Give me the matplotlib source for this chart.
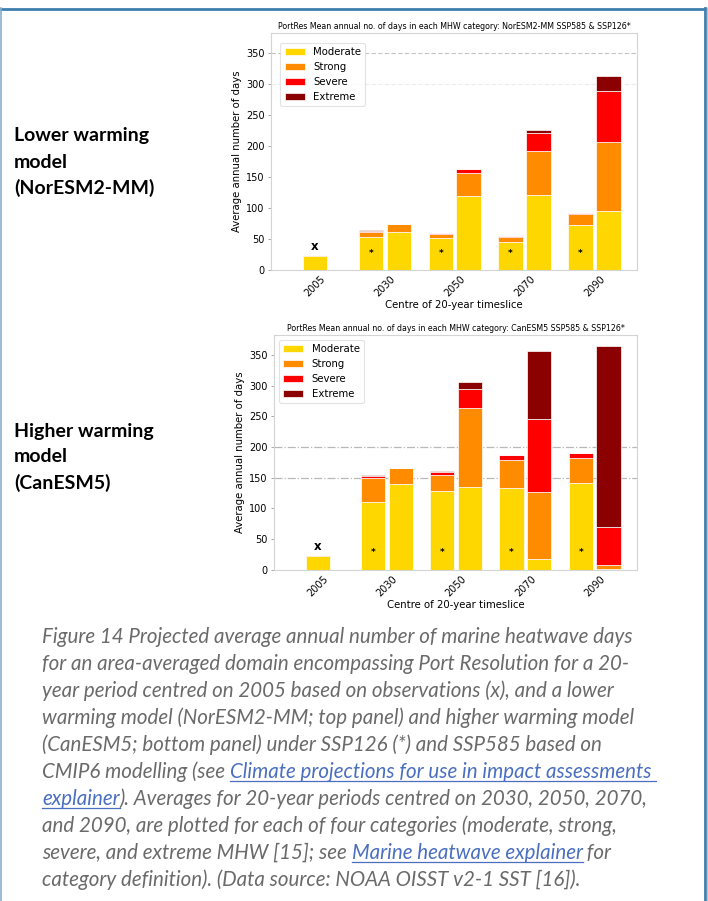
import matplotlib
matplotlib.use("Agg")
import matplotlib.pyplot as plt
import numpy as np
from matplotlib.lines import Line2D

# ---------------- data ----------------
timeslices = ["2005", "2030", "2050", "2070", "2090"]
categories = ["Moderate", "Strong", "Severe", "Extreme"]
cat_colors = ["gold", "darkorange", "red", "darkred"]

# observations (2005)
obs_vals = [22, 1.5, 0.5, 0]

# NorESM2-MM (2030, 2050, 2070, 2090)
nor_126_moderate = [54, 52, 45, 72]
nor_126_strong = [8, 6, 9, 18]
nor_126_severe = [1, 1.5, 1, 1.5]
nor_126_extreme = [1, 0, 0.7, 0]
nor_585_moderate = [62, 119.5, 122, 96]
nor_585_strong = [12, 37, 71, 111.5]
nor_585_severe = [0.5, 6, 29, 81]
nor_585_extreme = [0, 0.5, 5, 25]

# CanESM5 (2030, 2050, 2070, 2090)
can_126_moderate = [110, 129, 133, 142]
can_126_strong = [40, 26, 45.5, 40]
can_126_severe = [3.5, 5, 8, 8.5]
can_126_extreme = [1, 1, 0.5, 0.5]
can_585_moderate = [140, 134.5, 16.5, 0.5]
can_585_strong = [25, 128.5, 110, 6.5]
can_585_severe = [1.5, 32.5, 120, 63]
can_585_extreme = [0, 11, 110, 295]

titles = ["PortRes Mean annual no. of days in each MHW category: NorESM2-MM SSP585 & SSP126*",
          "PortRes Mean annual no. of days in each MHW category: CanESM5 SSP585 & SSP126*"]
ref_lines = [[350, 300], [200, 150]]

left_labels = [["Lower warming", "model", "(NorESM2-MM)"],
               ["Higher warming", "model", "(CanESM5)"]]

caption = [
    [("Figure 14 Projected average annual number of marine heatwave days", False)],
    [("for an area-averaged domain encompassing Port Resolution for a 20-", False)],
    [("year period centred on 2005 based on observations (x), and a lower", False)],
    [("warming model (NorESM2-MM; top panel) and higher warming model", False)],
    [("(CanESM5; bottom panel) under SSP126 (*) and SSP585 based on", False)],
    [("CMIP6 modelling (see ", False), ("Climate projections for use in impact assessments ", True)],
    [("explainer", True), ("). Averages for 20-year periods centred on 2030, 2050, 2070,", False)],
    [("and 2090, are plotted for each of four categories (moderate, strong,", False)],
    [("severe, and extreme MHW [15]; see ", False), ("Marine heatwave explainer", True), (" for", False)],
    [("category definition). (Data source: NOAA OISST v2-1 SST [16]).", False)],
]

# ---------------- figure ----------------
W, H = 708, 901
fig = plt.figure(figsize=(W / 100, H / 100), dpi=100)
fig.patch.set_facecolor("white")

def fx(px):
    return px / W

def fy(py):
    return 1 - py / H

# frame
fig.add_artist(Line2D([fx(0), fx(706)], [fy(8.5), fy(8.5)], color="#3f7fae", lw=2.0))
fig.add_artist(Line2D([fx(0.7), fx(0.7)], [fy(8), fy(901)], color="#86afcf", lw=1.2))
fig.add_artist(Line2D([fx(704.5), fx(704.5)], [fy(8), fy(901)], color="#3f7fae", lw=2.0))
fig.add_artist(Line2D([fx(707.3), fx(707.3)], [fy(8), fy(901)], color="#a9c7de", lw=1.0))

axes_rects = [
    [fx(271), fy(270), fx(637) - fx(271), (270 - 33) / H],
    [fx(274), fy(569.5), fx(637) - fx(274), (569.5 - 335) / H],
]

models = [
    ([nor_126_moderate, nor_126_strong, nor_126_severe, nor_126_extreme],
     [nor_585_moderate, nor_585_strong, nor_585_severe, nor_585_extreme]),
    ([can_126_moderate, can_126_strong, can_126_severe, can_126_extreme],
     [can_585_moderate, can_585_strong, can_585_severe, can_585_extreme]),
]

x = np.arange(len(timeslices))
bw = 0.35
spine_col = "#d4d4d4"

for k, rect in enumerate(axes_rects):
    ax = fig.add_axes(rect)
    s126, s585 = models[k]
    # reference lines
    if k == 0:
        ax.axhline(ref_lines[k][0], color="#c4c4c4", lw=0.8, ls=(0, (4, 2)), zorder=0)
        ax.axhline(ref_lines[k][1], color="#ececec", lw=0.8, ls=(0, (4, 2)), zorder=0)
    else:
        for v in ref_lines[k]:
            ax.axhline(v, color="#b8b8b8", lw=0.9, ls="-.", zorder=0)
    # observed bar
    bottom = 0.0
    for c in range(4):
        ax.bar(x[0], obs_vals[c], bw, bottom=bottom, color=cat_colors[c],
               edgecolor="white", linewidth=0.5, label=categories[c])
        bottom += obs_vals[c]
    ax.text(x[0], 38, "x", ha="center", va="center", fontsize=8.5, fontweight="bold")
    # scenario bars
    b126 = np.zeros(4)
    b585 = np.zeros(4)
    for c in range(4):
        ax.bar(x[1:] - 0.2, s126[c], bw, bottom=b126, color=cat_colors[c],
               edgecolor="white", linewidth=0.5)
        ax.bar(x[1:] + 0.2, s585[c], bw, bottom=b585, color=cat_colors[c],
               edgecolor="white", linewidth=0.5)
        b126 += np.array(s126[c])
        b585 += np.array(s585[c])
    for xi in x[1:]:
        ax.text(xi - 0.2, 27, "*", ha="center", va="center", fontsize=6.5,
                fontweight="bold")

    ax.set_xlim(-0.63, 4.61)
    ax.set_ylim(0, 383)
    ax.set_yticks(np.arange(0, 351, 50))
    ax.set_xticks(x)
    ax.set_xticklabels(timeslices, rotation=45, fontsize=7)
    ax.tick_params(axis="y", labelsize=7, length=2.5, width=0.6, color="#999999", pad=2)
    ax.tick_params(axis="x", length=0, pad=3)
    for sp in ax.spines.values():
        sp.set_color(spine_col)
        sp.set_linewidth(0.8)
    ax.set_ylabel("Average annual number of days", fontsize=7.3, labelpad=3)
    ax.set_xlabel("Centre of 20-year timeslice", fontsize=7.3, labelpad=1)
    ax.set_title(titles[k], fontsize=5.7, pad=3)
    leg = ax.legend(loc="upper left", fontsize=7.3, frameon=True,
                    handlelength=2.0, handleheight=0.7, borderpad=0.4,
                    labelspacing=0.5, bbox_to_anchor=(0.0, 1.0) if k == 1 else (0.012, 0.98))
    leg.get_frame().set_edgecolor("#dddddd")
    leg.get_frame().set_linewidth(0.8)

# left labels
label_y = [[136, 162, 188], [431, 457, 483]]
for k in range(2):
    for j, txt in enumerate(left_labels[k]):
        fig.text(fx(14), fy(label_y[k][j]), txt, ha="left", va="center",
                 fontsize=14, fontweight="bold", family=["Lato", "DejaVu Sans"],
                 color="black")

# caption
renderer = fig.canvas.get_renderer()
cap_color = "#6a6a6a"
link_color = "#4a6fc0"
cap_family = ["Lato", "DejaVu Sans"]

def measure(txt, fs):
    t = fig.text(0, 0, txt, fontsize=fs, style="italic", family=cap_family)
    w = t.get_window_extent(renderer).width
    t.remove()
    return w

# choose caption size so that the first line spans ~595 px
cap_fs = 14.0
cap_fs = cap_fs * 595.0 / measure(caption[0][0][0], cap_fs)
space_w = measure("a a", cap_fs) - measure("aa", cap_fs)

for i, segs in enumerate(caption):
    base_y = 643 + 27 * i
    cur_x = 42.0
    for txt, link in segs:
        t = fig.text(fx(cur_x), fy(base_y), txt, ha="left", va="baseline",
                     fontsize=cap_fs, style="italic", family=cap_family,
                     color=link_color if link else cap_color)
        ext = t.get_window_extent(renderer)
        x1 = ext.x1
        n_trail = len(txt) - len(txt.rstrip(" "))
        if n_trail:
            w_strip = measure(txt.rstrip(" "), cap_fs)
            if abs(ext.width - w_strip) < 0.5:
                x1 = ext.x0 + w_strip + space_w * n_trail
        if link:
            fig.add_artist(Line2D([fx(ext.x0), fx(x1)], [fy(base_y + 3), fy(base_y + 3)],
                                  color=link_color, lw=0.9))
        cur_x = x1

fig.savefig("out.png", dpi=100, facecolor="white")
